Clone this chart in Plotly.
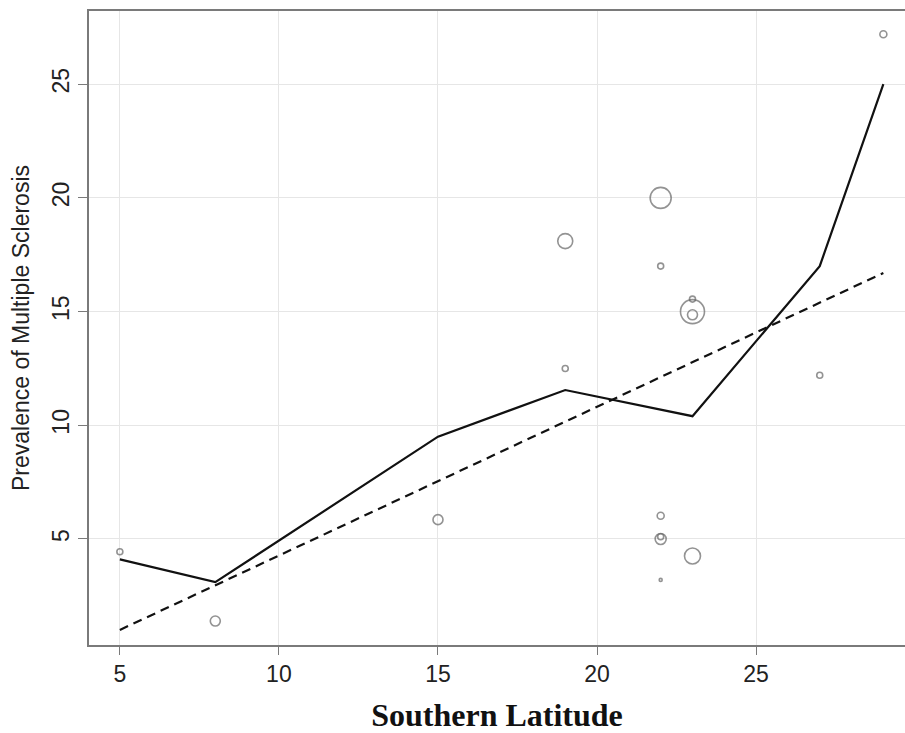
import plotly.graph_objects as go

# Observed studies (latitude, prevalence, relative marker size)
lat = [5, 8, 15, 19, 19, 22, 22, 22, 22, 22, 22, 23, 23, 23, 23, 27, 29]
prev = [4.44, 1.39, 5.85, 18.1, 12.5, 20.0, 17.0, 6.02, 5.0, 5.1, 3.2, 15.55, 15.0, 14.86, 4.25, 12.2, 27.2]
size = [6, 10, 10, 15, 6, 21, 6, 7, 11, 6, 3, 6, 24, 10, 16, 6, 7]

# Smoothed (solid) line
smooth_x = [5, 8, 15, 19, 23, 27, 29]
smooth_y = [4.1, 3.1, 9.5, 11.55, 10.4, 17.0, 25.0]

# Linear fit (dashed) line
fit_x = [5, 29]
fit_y = [1.0, 16.7]

fig = go.Figure()
fig.add_trace(go.Scatter(
    x=lat, y=prev, mode="markers",
    marker=dict(size=size, color="rgba(0,0,0,0)",
                line=dict(color="#666666", width=1.6)),
    showlegend=False, hoverinfo="x+y"))
fig.add_trace(go.Scatter(
    x=smooth_x, y=smooth_y, mode="lines",
    line=dict(color="#111111", width=2.2),
    showlegend=False))
fig.add_trace(go.Scatter(
    x=fit_x, y=fit_y, mode="lines",
    line=dict(color="#111111", width=2.2, dash="9px,6px"),
    showlegend=False))

axis_font = dict(family="Liberation Sans, Arial, sans-serif", size=23, color="#222222")

fig.update_layout(
    width=905, height=733,
    margin=dict(l=89, r=0, t=11, b=88),
    paper_bgcolor="white", plot_bgcolor="white",
    xaxis=dict(
        range=[4.03, 29.68], tickvals=[5, 10, 15, 20, 25],
        showgrid=True, gridcolor="#e6e6e6", gridwidth=1,
        zeroline=False, showline=True, linecolor="#7a7a7a", linewidth=1.5,
        mirror=True, ticks="outside", ticklen=8, tickcolor="#7a7a7a",
        tickfont=axis_font,
        title=dict(text="<b>Southern Latitude</b>",
                   font=dict(family="Liberation Serif, Times New Roman, serif", size=32, color="#111111"),
                   standoff=17),
        automargin=False,
    ),
    yaxis=dict(
        range=[0.337, 28.22], tickvals=[5, 10, 15, 20, 25],
        showgrid=True, gridcolor="#e6e6e6", gridwidth=1,
        zeroline=False, showline=True, linecolor="#7a7a7a", linewidth=1.5,
        mirror=False, ticks="outside", ticklen=9, tickcolor="#7a7a7a",
        tickfont=axis_font, tickangle=-90,
        title=dict(text="Prevalence of Multiple Sclerosis",
                   font=dict(family="Liberation Sans, Arial, sans-serif", size=23, color="#222222"),
                   standoff=12),
        automargin=False,
    ),
)

fig.write_html("out.html")
